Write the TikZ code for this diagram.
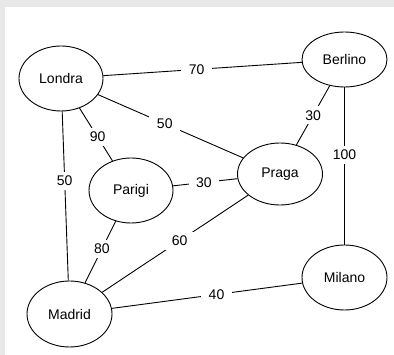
\documentclass[tikz,border=0pt]{standalone}
\usepackage{fontspec}
\setmainfont{Liberation Sans}
\usetikzlibrary{shapes.geometric}
\definecolor{frame}{HTML}{E8E8E8}
\begin{document}
\begin{tikzpicture}[x=1pt,y=-1pt,
  city/.style={ellipse,draw=black,line width=0.9pt,fill=white,inner sep=0pt,
    font=\fontsize{14}{16}\selectfont},
  link/.style={draw=black,line width=0.9pt},
  lbl/.style={fill=white,inner xsep=7.5pt,inner ysep=4pt,
    font=\fontsize{14}{16}\selectfont}]
\useasboundingbox (0,0) rectangle (394,355);
\fill[frame] (0,0) rectangle (394,355);
\fill[white] (5,7) rectangle (394,355);
\node[city,minimum width=84pt,minimum height=65pt] (lon) at (61,78.5) {Londra};
\node[city,minimum width=85pt,minimum height=55pt] (ber) at (344.5,59.5) {Berlino};
\node[city,minimum width=85pt,minimum height=62pt] (pra) at (280,174) {Praga};
\node[city,minimum width=84pt,minimum height=65pt] (par) at (131,190.5) {Parigi};
\node[city,minimum width=85pt,minimum height=65pt] (mil) at (344.5,277.5) {Milano};
\node[city,minimum width=85pt,minimum height=66pt] (mad) at (69.5,314) {Madrid};
\path[link] (lon) -- node[lbl,pos=0.47] {70} (ber);
\path[link] (lon) -- node[lbl,pos=0.46] {50} (pra);
\path[link] (lon) -- node[lbl,pos=0.55] {90} (par);
\path[link] (lon) -- node[lbl,pos=0.41] {50} (mad);
\path[link] (ber) -- node[lbl,pos=0.5] {30} (pra);
\path[link] (ber) -- node[lbl,pos=0.43] {100} (mil);
\path[link] (par) -- node[lbl,pos=0.48] {30} (pra);
\path[link] (par) -- node[lbl,pos=0.45] {80} (mad);
\path[link] (pra) -- node[lbl,pos=0.47] {60} (mad);
\path[link] (mad) -- node[lbl,pos=0.55] {40} (mil);
\end{tikzpicture}
\end{document}
